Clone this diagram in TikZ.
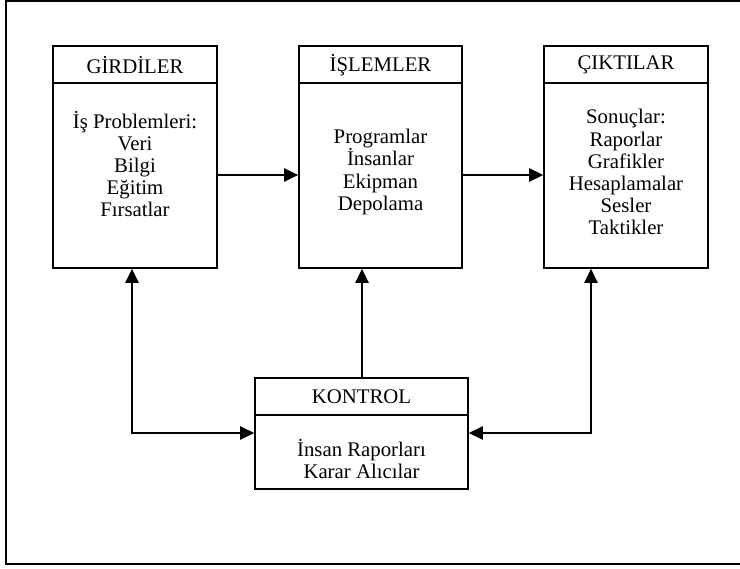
\documentclass[tikz,border=0pt]{standalone}
\usepackage{fontspec}
\setmainfont{Liberation Serif}
\usetikzlibrary{arrows.meta}
\newcommand\pxu{0.635pt}
\tikzset{
  box/.style={draw, line width=1pt, rectangle, inner sep=0pt},
  headrule/.style={line width=1pt},
  txt/.style={align=center, font=\fontsize{13.2}{14}\selectfont, inner sep=0pt},
  link/.style={line width=0.9pt, -{Triangle[length=9pt,width=8.5pt]}},
  link2/.style={line width=0.9pt, {Triangle[length=9pt,width=8.5pt]}-{Triangle[length=9pt,width=8.5pt]}},
}
\begin{document}
\begin{tikzpicture}[x=\pxu, y=-\pxu]
\useasboundingbox (0,0) rectangle (740,569);
\clip (0,0) rectangle (740,569);
% outer frame
\draw[line width=1pt] (6,1) rectangle (760,564);

% three main boxes
\node[box, minimum width={164*\pxu}, minimum height={222*\pxu}] (gir) at (135,157) {};
\node[box, minimum width={163*\pxu}, minimum height={222*\pxu}] (isl) at (380.5,157) {};
\node[box, minimum width={164*\pxu}, minimum height={222*\pxu}] (cik) at (626,157) {};
\node[box, minimum width={213*\pxu}, minimum height={111*\pxu}] (kon) at (361.5,433.5) {};

% header rules
\draw[headrule] (gir.west |- 0,83) -- (gir.east |- 0,83);
\draw[headrule] (isl.west |- 0,83) -- (isl.east |- 0,83);
\draw[headrule] (cik.west |- 0,83) -- (cik.east |- 0,83);
\draw[headrule] (kon.west |- 0,415) -- (kon.east |- 0,415);

% titles
\node[txt] (girT) at (135,65) {GİRDİLER};
\node[txt] (islT) at (380.5,65) {İŞLEMLER};
\node[txt] (cikT) at (626,65) {ÇIKTILAR};
\node[txt] (konT) at (361.5,397) {KONTROL};

% contents
\node[txt] (girB) at (135,164) {İş Problemleri:\\Veri\\Bilgi\\Eğitim\\Fırsatlar};
\node[txt] (islB) at (380.5,172) {Programlar\\İnsanlar\\Ekipman\\Depolama};
\node[txt] (cikB) at (626,172) {Sonuçlar:\\Raporlar\\Grafikler\\Hesaplamalar\\Sesler\\Taktikler};
\node[txt] (konB) at (361.5,459) {İnsan Raporları\\Karar Alıcılar};

% flow between main boxes
\draw[link] (gir.east |- 0,175) -- (isl.west |- 0,175);
\draw[link] (isl.east |- 0,175) -- (cik.west |- 0,175);

% control links
\draw[link] (kon.north -| 362,0) -- (isl.south -| 362,0);
\draw[link2] (gir.south -| 132,0) |- (kon.west |- 0,433);
\draw[link2] (cik.south -| 591,0) |- (kon.east |- 0,433);
\end{tikzpicture}
\end{document}
